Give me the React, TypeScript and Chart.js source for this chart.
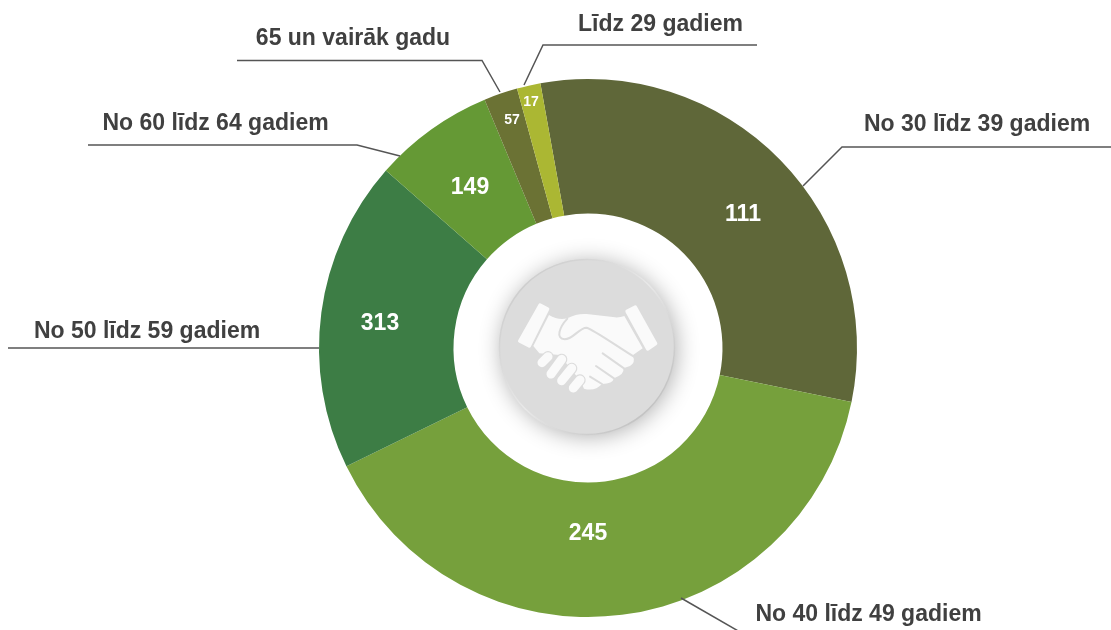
import React, { useEffect, useRef } from "react";
import { Chart, registerables } from "chart.js";

Chart.register(...registerables);

const categories = [
  "No 30 līdz 39 gadiem",
  "No 40 līdz 49 gadiem",
  "No 50 līdz 59 gadiem",
  "No 60 līdz 64 gadiem",
  "65 un vairāk gadu",
  "Līdz 29 gadiem",
];
// Numbers printed on the slices in the picture.
const printedValues = ["111", "245", "313", "149", "57", "17"];
// Slice sizes as drawn in the picture (degrees); they differ from the printed numbers.
const sliceSizes = [111.8, 142.3, 67.4, 26.1, 7.3, 5.1];
const sliceColors = ["#5F6739", "#76A03C", "#3D7D45", "#659935", "#6B7234", "#ABB733"];

// Label placement, in page pixels.
const valueAnchors = [[743, 215], [588, 534], [380, 324], [470, 188], [512, 120], [531, 102]];
const valueFonts = [23, 23, 23, 23, 14, 14];
const categoryAnchors = [[977, 125], [868.5, 615], [147, 332], [215.5, 124], [353, 39], [660.5, 25]];
const leaders = [
  [[803, 186], [842, 147], [1111, 147]],
  [[681, 598], [740, 632]],
  [[8, 348], [319, 348]],
  [[88, 145], [357, 145], [400, 156]],
  [[237, 60.5], [482, 60.5], [500, 92]],
  [[524, 85], [543, 45], [757, 45]],
];

const fingers = [
  [[186, 368], [204, 350]],
  [[213, 402], [245, 358]],
  [[245, 422], [275, 385]],
  [[280, 444], [300, 420]],
];
const grooves = [
  [[368, 340], [432, 385]],
  [[348, 378], [402, 415]],
  [[330, 410], [366, 432]],
];

function drawBadge(ctx: CanvasRenderingContext2D) {
  const cx = 587, cy = 347, r = 88;
  ctx.save();
  ctx.shadowColor = "rgba(0,0,0,0.3)";
  ctx.shadowBlur = 22;
  ctx.shadowOffsetX = 2;
  ctx.shadowOffsetY = 2;
  ctx.fillStyle = "#DCDCDC";
  ctx.beginPath();
  ctx.arc(cx, cy, r, 0, Math.PI * 2);
  ctx.fill();
  ctx.restore();
  ctx.save();
  const rim = ctx.createLinearGradient(cx - r, cy - r, cx + r, cy + r);
  rim.addColorStop(0, "#C4C4C4");
  rim.addColorStop(0.5, "#E8E8E8");
  rim.addColorStop(1, "#B4B4B4");
  ctx.strokeStyle = rim;
  ctx.lineWidth = 1.5;
  ctx.beginPath();
  ctx.arc(cx, cy, r - 0.5, 0, Math.PI * 2);
  ctx.stroke();

  // Handshake glyph, outlined in a 3x crop space with origin (480,240).
  ctx.translate(480, 240);
  ctx.scale(1 / 3, 1 / 3);
  const white = "#FAFAFA";
  const gap = "#DCDCDC";
  ctx.fillStyle = white;
  ctx.strokeStyle = white;
  ctx.lineJoin = "round";
  ctx.lineCap = "round";
  ctx.lineWidth = 10;
  ctx.beginPath();
  ctx.moveTo(180, 195);
  ctx.lineTo(203, 207);
  ctx.lineTo(148, 318);
  ctx.lineTo(119, 303);
  ctx.closePath();
  ctx.fill();
  ctx.stroke();
  ctx.beginPath();
  ctx.moveTo(466, 201);
  ctx.lineTo(441, 214);
  ctx.lineTo(503, 327);
  ctx.lineTo(527, 311);
  ctx.closePath();
  ctx.fill();
  ctx.stroke();

  ctx.beginPath();
  ctx.moveTo(207, 225);
  ctx.quadraticCurveTo(235, 242, 262, 235);
  ctx.quadraticCurveTo(290, 220, 320, 222);
  ctx.lineTo(405, 232);
  ctx.quadraticCurveTo(420, 233, 433, 228);
  ctx.lineTo(488, 325);
  ctx.lineTo(458, 346);
  ctx.quadraticCurveTo(468, 368, 450, 378);
  ctx.lineTo(430, 385);
  ctx.quadraticCurveTo(435, 402, 402, 415);
  ctx.quadraticCurveTo(398, 432, 366, 432);
  ctx.quadraticCurveTo(345, 455, 312, 446);
  ctx.lineTo(300, 420);
  ctx.lineTo(270, 385);
  ctx.lineTo(240, 345);
  ctx.lineTo(178, 340);
  ctx.lineTo(160, 318);
  ctx.closePath();
  ctx.fill();

  // gaps between fingers
  ctx.strokeStyle = gap;
  ctx.lineWidth = 34;
  fingers.forEach(([a, b]) => {
    ctx.beginPath();
    ctx.moveTo(a[0], a[1]);
    ctx.lineTo(b[0], b[1]);
    ctx.stroke();
  });
  ctx.strokeStyle = white;
  ctx.lineWidth = 27;
  fingers.forEach(([a, b]) => {
    ctx.beginPath();
    ctx.moveTo(a[0], a[1]);
    ctx.lineTo(b[0], b[1]);
    ctx.stroke();
  });
  ctx.strokeStyle = gap;
  ctx.lineWidth = 6;
  ctx.beginPath();
  ctx.moveTo(262, 236);
  ctx.bezierCurveTo(238, 262, 226, 296, 254, 298);
  ctx.bezierCurveTo(280, 298, 298, 262, 320, 263);
  ctx.bezierCurveTo(340, 268, 420, 325, 462, 350);
  ctx.stroke();
  grooves.forEach(([a, b]) => {
    ctx.beginPath();
    ctx.moveTo(a[0], a[1]);
    ctx.lineTo(b[0], b[1]);
    ctx.stroke();
  });
  ctx.restore();
}

const overlay = {
  id: "overlay",
  afterDatasetsDraw(chart: Chart) {
    const ctx = chart.ctx;
    drawBadge(ctx);
    ctx.save();
    ctx.textAlign = "center";
    ctx.textBaseline = "middle";
    ctx.fillStyle = "#FFFFFF";
    printedValues.forEach((v, i) => {
      ctx.font = `bold ${valueFonts[i]}px "Liberation Sans", Arial, sans-serif`;
      ctx.fillText(v, valueAnchors[i][0], valueAnchors[i][1]);
    });
    ctx.strokeStyle = "#555555";
    ctx.lineWidth = 1.5;
    leaders.forEach((pts) => {
      ctx.beginPath();
      pts.forEach((p, j) => (j === 0 ? ctx.moveTo(p[0], p[1]) : ctx.lineTo(p[0], p[1])));
      ctx.stroke();
    });
    ctx.fillStyle = "#404040";
    ctx.font = 'bold 23px "Liberation Sans", Arial, sans-serif';
    categories.forEach((c, i) => {
      ctx.fillText(c, categoryAnchors[i][0], categoryAnchors[i][1]);
    });
    ctx.restore();
  },
};

export default function App() {
  const ref = useRef<HTMLCanvasElement>(null);
  useEffect(() => {
    document.body.style.margin = "0";
    document.body.style.background = "#FFFFFF";
    const chart = new Chart(ref.current!, {
      type: "doughnut",
      data: {
        labels: categories,
        datasets: [
          {
            data: sliceSizes,
            backgroundColor: sliceColors,
            borderWidth: 0,
          },
        ],
      },
      options: {
        responsive: false,
        animation: false,
        rotation: -10.2,
        cutout: "50%",
        layout: { padding: { left: 319, right: 254, top: 79, bottom: 13 } },
        plugins: { legend: { display: false }, tooltip: { enabled: false } },
      },
      plugins: [overlay],
    });
    return () => chart.destroy();
  }, []);
  return <canvas ref={ref} width={1111} height={630} style={{ display: "block" }} />;
}
